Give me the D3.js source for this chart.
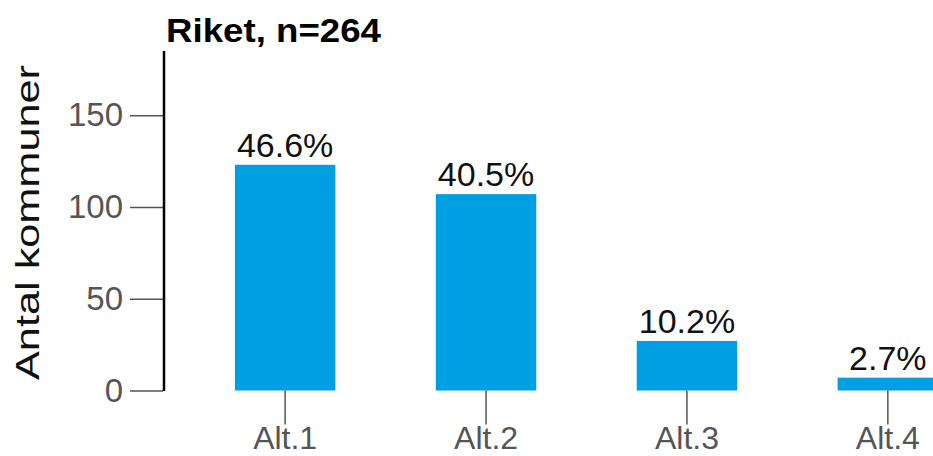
<!DOCTYPE html>
<html>
<head>
<meta charset="utf-8">
<script src="https://cdn.jsdelivr.net/npm/d3@7"></script>
<style>
  body { margin: 0; background: #fff; }
  svg { font-family: "Liberation Sans", Arial, sans-serif; display: block; }
</style>
</head>
<body>
<svg></svg>
<script>
const WIDTH = 933;
const HEIGHT = 456;
const FONT = '"Liberation Sans", Arial, sans-serif';

const categories = ['Alt.1', 'Alt.2', 'Alt.3', 'Alt.4'];
const counts = [123, 107, 27, 7];
const percents = ['46.6%', '40.5%', '10.2%', '2.7%'];
const yTicks = [0, 50, 100, 150];

const axisX = 164;
const baseY = 390.5;

const x = d3.scaleBand()
  .domain(categories)
  .range([163, 1010])
  .paddingInner(0.5)
  .paddingOuter(0.358);

const y = d3.scaleLinear()
  .domain([0, 185])
  .range([baseY, 51]);

const svg = d3.select('svg')
  .attr('width', WIDTH)
  .attr('height', HEIGHT);

// bars
svg.selectAll('rect.bar')
  .data(categories)
  .enter()
  .append('rect')
  .attr('class', 'bar')
  .attr('x', d => x(d))
  .attr('width', x.bandwidth())
  .attr('y', (d, i) => y(counts[i]))
  .attr('height', (d, i) => y(0) - y(counts[i]))
  .attr('fill', '#009fe3');

// value labels
svg.selectAll('text.pct')
  .data(categories)
  .enter()
  .append('text')
  .attr('class', 'pct')
  .attr('x', d => x(d) + x.bandwidth() / 2)
  .attr('y', (d, i) => y(counts[i]) - 8)
  .attr('text-anchor', 'middle')
  .attr('font-size', 34)
  .attr('fill', '#111')
  .text((d, i) => percents[i]);

// y axis
const yAxis = svg.append('g')
  .attr('transform', `translate(163,0)`)
  .call(d3.axisLeft(y).tickValues(yTicks).tickSize(33).tickPadding(7));
yAxis.select('.domain').remove();
yAxis.selectAll('.tick line').attr('stroke', '#555').attr('stroke-width', 1.5);
yAxis.selectAll('.tick text')
  .attr('fill', '#555')
  .attr('font-size', 33)
  .attr('font-family', FONT);

svg.append('line')
  .attr('x1', axisX).attr('x2', axisX)
  .attr('y1', y.range()[1]).attr('y2', baseY + 0.5)
  .attr('stroke', '#000')
  .attr('stroke-width', 2.5);

// x axis (ticks only)
const xAxis = svg.append('g')
  .attr('transform', `translate(0,${baseY})`)
  .call(d3.axisBottom(x).tickSize(34).tickPadding(2));
xAxis.select('.domain').remove();
xAxis.selectAll('.tick line').attr('stroke', '#555').attr('stroke-width', 1.5);
xAxis.selectAll('.tick text')
  .attr('y', 35.5)
  .attr('fill', '#555')
  .attr('font-size', 32)
  .attr('font-family', FONT);

// y label
svg.append('text')
  .attr('transform', 'translate(39,222.5) rotate(-90)')
  .attr('text-anchor', 'middle')
  .attr('font-size', 34)
  .attr('textLength', 315)
  .attr('lengthAdjust', 'spacingAndGlyphs')
  .attr('fill', '#111')
  .text('Antal kommuner');

// title
svg.append('text')
  .attr('x', 166)
  .attr('y', 42)
  .attr('font-size', 34)
  .attr('textLength', 215)
  .attr('lengthAdjust', 'spacingAndGlyphs')
  .attr('font-weight', 'bold')
  .attr('fill', '#000')
  .text('Riket, n=264');
</script>
</body>
</html>
